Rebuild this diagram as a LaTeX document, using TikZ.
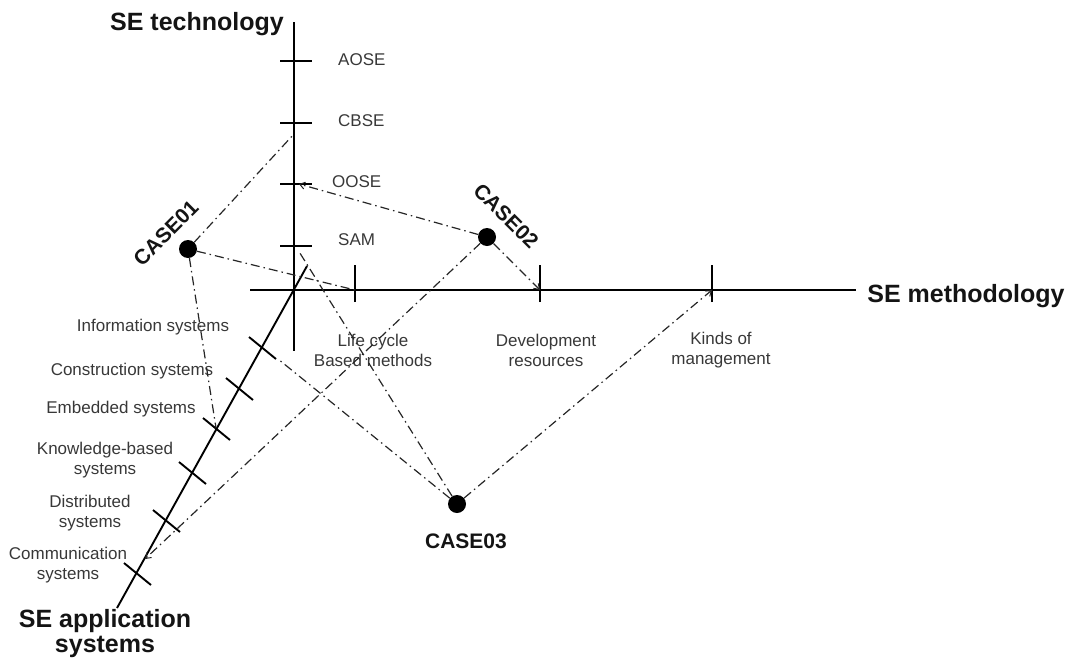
\documentclass[tikz,border=0pt]{standalone}
\usepackage{fontspec}
\setmainfont{Liberation Sans}
\usetikzlibrary{arrows.meta}
\begin{document}
\begin{tikzpicture}[x=1pt,y=-1pt,
  axisline/.style={line width=1.9pt, black},
  tickmark/.style={line width=1.9pt, black},
  link/.style={line width=1.2pt, black!85, dash pattern=on 9pt off 4pt on 1.5pt off 4pt},
  tip/.style={-{Straight Barb[length=5pt,width=7pt,line width=1pt]}},
  lbl/.style={font=\fontsize{17}{20}\selectfont, text=black!78, align=center, inner sep=0pt},
  axtitle/.style={font=\fontsize{25}{28}\selectfont\bfseries, text=black!92, align=center, inner sep=0pt},
  casedot/.style={circle, fill=black, minimum size=18pt, inner sep=0pt},
  casename/.style={font=\fontsize{21}{24}\selectfont\bfseries, text=black!92, inner sep=0pt}]
\useasboundingbox (0,0) rectangle (1074,667);

% ---- axes ----
\coordinate (techTop) at (294,22);
\coordinate (techBot) at (294,351);
\coordinate (methL) at (250,290);
\coordinate (methR) at (856,290);
\coordinate (appBot) at (117,608);
\coordinate (appTop) at (307,266);
\draw[axisline] (techTop) -- (techBot);
\draw[axisline] (methL) -- (methR);
\draw[axisline] (appBot) -- (appTop);

\node[axtitle] (tTech) at (197,24) {SE technology};
\node[axtitle] (tMeth) at (966,296) {SE methodology};
\node[axtitle] (tApp) at (105,634) {SE application\\[-3pt]systems};

% ---- SE technology ticks ----
\coordinate (aose) at (294,61);
\coordinate (cbse) at (294,123);
\coordinate (oose) at (294,184);
\coordinate (sam)  at (294,246);
\foreach \t in {aose,cbse,oose,sam}
  \draw[tickmark] ([xshift=-14pt]\t) -- ([xshift=18pt]\t);
\node[lbl, anchor=west] (lAOSE) at (338,60) {AOSE};
\node[lbl, anchor=west] (lCBSE) at (338,121) {CBSE};
\node[lbl, anchor=west] (lOOSE) at (332,182) {OOSE};
\node[lbl, anchor=west] (lSAM)  at (338,240) {SAM};

% ---- SE methodology ticks ----
\coordinate (life)  at (355,290);
\coordinate (dev)   at (540,290);
\coordinate (kinds) at (712,290);
\foreach \t in {life,dev,kinds}
  \draw[tickmark] ([yshift=-12pt]\t) -- ([yshift=25pt]\t);
\node[lbl] (lLife)  at (373,350) {Life cycle\\Based methods};
\node[lbl] (lDev)   at (546,350) {Development\\resources};
\node[lbl] (lKinds) at (721,350) {Kinds of\\management};

% ---- SE application systems ticks ----
\coordinate (info)   at (262,347);
\coordinate (constr) at (239,388);
\coordinate (embed)  at (216,428);
\coordinate (know)   at (192,472);
\coordinate (distr)  at (166,520);
\coordinate (comm)   at (137,573);
\foreach \t in {info,constr,embed,know,distr,comm}
  \draw[tickmark] ([shift={(-13,-10)}]\t) -- ([shift={(14,12)}]\t);
\node[lbl] (lInfo)   at (153,327) {Information systems};
\node[lbl] (lConstr) at (132,371) {Construction systems};
\node[lbl] (lEmbed)  at (121,409) {Embedded systems};
\node[lbl] (lKnow)   at (105,460) {Knowledge-based\\systems};
\node[lbl] (lDistr)  at (90,513)  {Distributed\\systems};
\node[lbl] (lComm)   at (68,565)  {Communication\\systems};

% ---- cases ----
\node[casedot] (case1) at (188,249) {};
\node[casedot] (case2) at (487,237) {};
\node[casedot] (case3) at (457,504) {};
\node[casename, rotate=45]  (n1) at (166,233) {CASE01};
\node[casename, rotate=-45] (n2) at (506,216) {CASE02};
\node[casename]             (n3) at (466,541) {CASE03};

% ---- link end points ----
\coordinate (cbseLink) at (294,134);
\coordinate (ooseLink) at (299,184);
\coordinate (samLink)  at (298,250);
\coordinate (infoLink) at (278,359);
\coordinate (commLink) at (145,559);

% ---- links between cases and axis items ----
\draw[link] (case1) -- (cbseLink);
\draw[link] (case1) -- (life);
\draw[link] (case1) -- (embed);
\draw[link, tip] (case2) -- (ooseLink);
\draw[link, tip] (case2) -- (dev);
\draw[link, tip] (case2) -- (commLink);
\draw[link, tip] (case3) -- (kinds);
\draw[link] (case3) -- (infoLink);
\draw[link] (case3) -- (samLink);
\end{tikzpicture}
\end{document}
